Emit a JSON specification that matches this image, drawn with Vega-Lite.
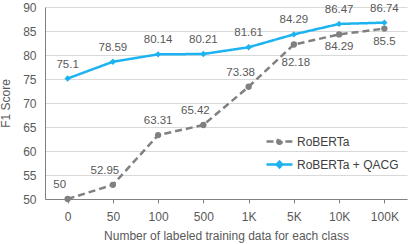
{
  "$schema": "https://vega.github.io/schema/vega-lite/v6.json",
  "width": 362,
  "height": 192,
  "autosize": {"type": "none"},
  "padding": {"left": 45, "top": 7, "right": 2, "bottom": 45},
  "background": "white",
  "config": {
    "font": "Liberation Sans",
    "view": {"stroke": null},
    "axis": {
      "labelColor": "#595959",
      "titleColor": "#595959",
      "labelFontSize": 12,
      "titleFontSize": 12,
      "titleFontWeight": "normal",
      "domainColor": "#808080",
      "tickColor": "#808080",
      "gridColor": "#d9d9d9",
      "gridWidth": 1
    }
  },
  "data": {
    "values": [
      {"n": "0", "model": "RoBERTa", "f1": 50},
      {"n": "50", "model": "RoBERTa", "f1": 52.95},
      {"n": "100", "model": "RoBERTa", "f1": 63.31},
      {"n": "500", "model": "RoBERTa", "f1": 65.42},
      {"n": "1K", "model": "RoBERTa", "f1": 73.38},
      {"n": "5K", "model": "RoBERTa", "f1": 82.18},
      {"n": "10K", "model": "RoBERTa", "f1": 84.29},
      {"n": "100K", "model": "RoBERTa", "f1": 85.5},
      {"n": "0", "model": "RoBERTa + QACG", "f1": 75.1},
      {"n": "50", "model": "RoBERTa + QACG", "f1": 78.59},
      {"n": "100", "model": "RoBERTa + QACG", "f1": 80.14},
      {"n": "500", "model": "RoBERTa + QACG", "f1": 80.21},
      {"n": "1K", "model": "RoBERTa + QACG", "f1": 81.61},
      {"n": "5K", "model": "RoBERTa + QACG", "f1": 84.29},
      {"n": "10K", "model": "RoBERTa + QACG", "f1": 86.47},
      {"n": "100K", "model": "RoBERTa + QACG", "f1": 86.74}
    ]
  },
  "encoding": {
    "x": {
      "field": "n",
      "type": "ordinal",
      "sort": ["0", "50", "100", "500", "1K", "5K", "10K", "100K"],
      "scale": {"type": "point", "padding": 0.5},
      "axis": {
        "title": "Number of labeled training data for each class",
        "labelAngle": 0,
        "tickSize": 4,
        "labelPadding": 8,
        "titlePadding": 8,
        "grid": false
      }
    },
    "y": {
      "field": "f1",
      "type": "quantitative",
      "scale": {"domain": [50, 90], "nice": false, "zero": false},
      "axis": {
        "title": "F1 Score",
        "values": [50, 55, 60, 65, 70, 75, 80, 85, 90],
        "tickSize": 0,
        "labelPadding": 9,
        "titlePadding": 10,
        "grid": true
      }
    }
  },
  "layer": [
    {
      "mark": {"type": "line", "strokeWidth": 2.5},
      "encoding": {
        "color": {
          "field": "model",
          "type": "nominal",
          "scale": {"domain": ["RoBERTa", "RoBERTa + QACG"], "range": ["#808080", "#1CB3F0"]},
          "legend": {
            "title": null,
            "orient": "none",
            "legendX": 220,
            "legendY": 120,
            "rowPadding": 1,
            "labelFontSize": 12,
            "labelColor": "#404040",
            "labelOffset": 3,
            "symbolSize": 676,
            "symbolStrokeWidth": 2.5,
            "encode": {
              "symbols": {
                "update": {
                  "shape": {"signal": "datum.value === 'RoBERTa' ? 'M-1,0H-0.45M0.45,0H1M-0.17,0A0.17,0.17 0 1,0 0.17,0A0.17,0.17 0 1,0 -0.17,0Z' : 'M-1,0H1M0,-0.22L0.22,0L0,0.22L-0.22,0Z'"},
                  "fill": {"scale": "color", "field": "value"},
                  "stroke": {"scale": "color", "field": "value"},
                  "strokeWidth": {"value": 2.5},
                  "strokeDash": {"value": []}
                }
              }
            }
          }
        },
        "strokeDash": {
          "field": "model",
          "type": "nominal",
          "scale": {"domain": ["RoBERTa", "RoBERTa + QACG"], "range": [[7, 4], [1, 0]]},
          "legend": null
        }
      }
    },
    {
      "transform": [{"filter": "datum.model === 'RoBERTa'"}],
      "mark": {"type": "point", "shape": "circle", "filled": true, "opacity": 1, "size": 40, "color": "#808080"}
    },
    {
      "transform": [{"filter": "datum.model === 'RoBERTa + QACG'"}],
      "mark": {"type": "point", "shape": "diamond", "filled": true, "opacity": 1, "size": 40, "color": "#1CB3F0"}
    },
    {
      "transform": [{"filter": "datum.model === 'RoBERTa' && (datum.n === '0' || datum.n === '50' || datum.n === '500' || datum.n === '1K')"}],
      "mark": {"type": "text", "dx": -8, "dy": -14, "fontSize": 11.5, "color": "#595959", "baseline": "middle"},
      "encoding": {"text": {"field": "f1", "type": "quantitative"}}
    },
    {
      "transform": [{"filter": "datum.model === 'RoBERTa' && datum.n === '100'"}],
      "mark": {"type": "text", "dy": -14, "fontSize": 11.5, "color": "#595959", "baseline": "middle"},
      "encoding": {"text": {"field": "f1", "type": "quantitative"}}
    },
    {
      "transform": [{"filter": "datum.model === 'RoBERTa' && datum.n === '5K'"}],
      "mark": {"type": "text", "dx": 2, "dy": 18, "fontSize": 11.5, "color": "#595959", "baseline": "middle"},
      "encoding": {"text": {"field": "f1", "type": "quantitative"}}
    },
    {
      "transform": [{"filter": "datum.model === 'RoBERTa' && (datum.n === '10K' || datum.n === '100K')"}],
      "mark": {"type": "text", "dy": 13, "fontSize": 11.5, "color": "#595959", "baseline": "middle"},
      "encoding": {"text": {"field": "f1", "type": "quantitative"}}
    },
    {
      "transform": [{"filter": "datum.model === 'RoBERTa + QACG'"}],
      "mark": {"type": "text", "dy": -14, "fontSize": 11.5, "color": "#595959", "baseline": "middle"},
      "encoding": {"text": {"field": "f1", "type": "quantitative"}}
    }
  ]
}
